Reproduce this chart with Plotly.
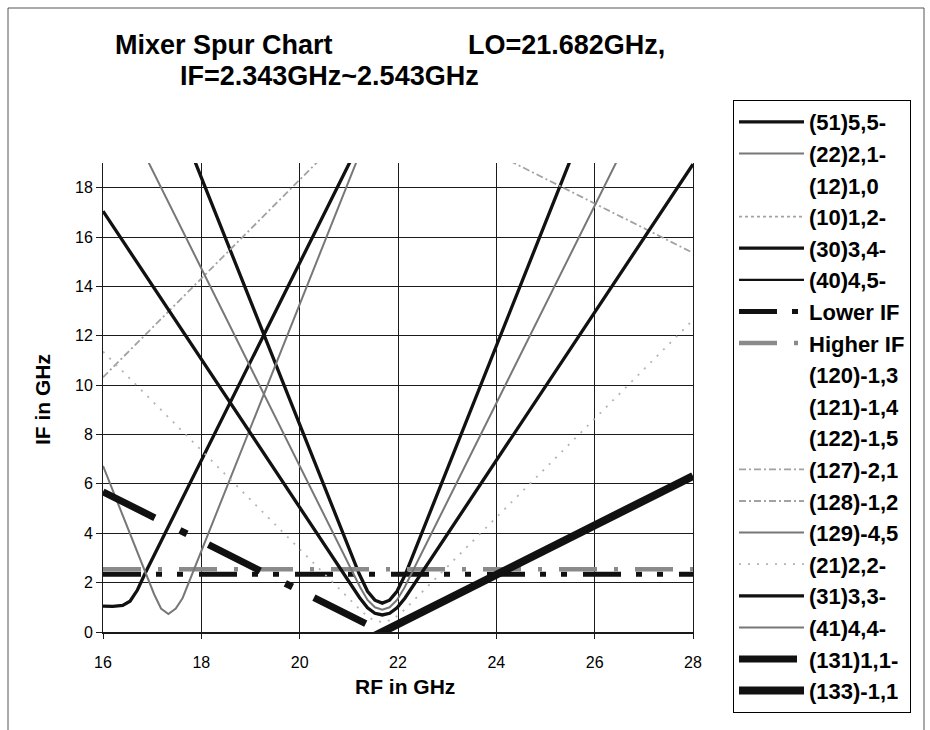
import plotly.graph_objects as go

# ---------------- data ----------------
LO_GHZ = 21.682
IF_LOW = 2.343
IF_HIGH = 2.543

series_names = [
    "(51)5,5-", "(22)2,1-", "(12)1,0", "(10)1,2-", "(30)3,4-", "(40)4,5-",
    "Lower IF", "Higher IF", "(120)-1,3", "(121)-1,4", "(122)-1,5",
    "(127)-2,1", "(128)-1,2", "(129)-4,5", "(21)2,2-", "(31)3,3-",
    "(41)4,4-", "(131)1,1-", "(133)-1,1",
]

rf_51 = [17.5, 21.21, 21.38, 21.53, 21.68, 21.83, 21.98, 22.15, 26.0]
if_51 = [20.91, 2.36, 1.65, 1.29, 1.17, 1.29, 1.65, 2.34, 21.59]

rf_22 = [None]
if_22 = [None]

rf_12 = [None]
if_12 = [None]

rf_10 = [None]
if_10 = [None]

rf_30 = [16.0, 16.2, 16.4, 16.55, 16.7, 16.85, 21.5]
if_30 = [1.05, 1.04, 1.08, 1.25, 1.7, 2.35, 20.95]

rf_40 = [None]
if_40 = [None]

rf_lower = [16.0, 28.0]
if_lower = [IF_LOW, IF_LOW]

rf_higher = [16.0, 28.0]
if_higher = [IF_HIGH, IF_HIGH]

rf_120 = [None]
if_120 = [None]
rf_121 = [None]
if_121 = [None]
rf_122 = [None]
if_122 = [None]

rf_127 = [24.0, 28.0]
if_127 = [19.36, 15.36]

rf_128 = [16.0, 20.5]
if_128 = [10.32, 19.32]

rf_129 = [16.0, 16.9, 17.04, 17.18, 17.33, 17.48, 17.62, 21.3]
if_129 = [6.73, 2.23, 1.53, 0.95, 0.73, 0.95, 1.38, 19.77]

rf_21 = [16.0, 21.28, 21.48, 21.68, 21.88, 22.08, 28.0]
if_21 = [11.36, 0.80, 0.50, 0.40, 0.50, 0.80, 12.64]

rf_31 = [16.0, 21.22, 21.38, 21.53, 21.68, 21.83, 21.98, 22.14, 28.0]
if_31 = [17.05, 1.39, 0.98, 0.76, 0.69, 0.76, 0.98, 1.37, 18.95]

rf_41 = [16.5, 21.23, 21.38, 21.53, 21.68, 21.83, 21.98, 22.13, 27.0]
if_41 = [20.73, 1.81, 1.30, 1.00, 0.90, 1.00, 1.30, 1.79, 21.27]

rf_131 = [16.0, 21.68]
if_131 = [5.68, 0.0]

rf_133 = [21.5, 28.0]
if_133 = [-0.18, 6.32]

x_ticks = [16, 18, 20, 22, 24, 26, 28]
y_ticks = [0, 2, 4, 6, 8, 10, 12, 14, 16, 18]

# ---------------- styles ----------------
BLACK = "#111111"
GRAY = "#777777"
LIGHT = "#a2a2a2"
FAINT = "#b4b4b4"
NONE = "rgba(0,0,0,0)"

styles = {
    "(51)5,5-": dict(color=BLACK, width=3.3),
    "(22)2,1-": dict(color=GRAY, width=2),
    "(12)1,0": dict(color=NONE, width=1),
    "(10)1,2-": dict(color=LIGHT, width=1.8, dash="3px,3px"),
    "(30)3,4-": dict(color=BLACK, width=3.3),
    "(40)4,5-": dict(color=BLACK, width=2.2),
    "Lower IF": dict(color=BLACK, width=5, dash="38px,15px,6px,15px,6px,16px"),
    "Higher IF": dict(color="#8a8a8a", width=4.5, dash="38px,17px,4px,17px"),
    "(120)-1,3": dict(color=NONE, width=1),
    "(121)-1,4": dict(color=NONE, width=1),
    "(122)-1,5": dict(color=NONE, width=1),
    "(127)-2,1": dict(color=LIGHT, width=1.8, dash="7px,3px,2px,3px"),
    "(128)-1,2": dict(color=LIGHT, width=1.8, dash="7px,3px,2px,3px"),
    "(129)-4,5": dict(color=GRAY, width=2),
    "(21)2,2-": dict(color=FAINT, width=1.8, dash="2px,7px"),
    "(31)3,3-": dict(color=BLACK, width=3.3),
    "(41)4,4-": dict(color=GRAY, width=2),
    "(131)1,1-": dict(color=BLACK, width=7, dash="58px,28px,8px,24px"),
    "(133)-1,1": dict(color=BLACK, width=8),
}

data = {
    "(51)5,5-": (rf_51, if_51), "(22)2,1-": (rf_22, if_22), "(12)1,0": (rf_12, if_12),
    "(10)1,2-": (rf_10, if_10), "(30)3,4-": (rf_30, if_30), "(40)4,5-": (rf_40, if_40),
    "Lower IF": (rf_lower, if_lower), "Higher IF": (rf_higher, if_higher),
    "(120)-1,3": (rf_120, if_120), "(121)-1,4": (rf_121, if_121), "(122)-1,5": (rf_122, if_122),
    "(127)-2,1": (rf_127, if_127), "(128)-1,2": (rf_128, if_128), "(129)-4,5": (rf_129, if_129),
    "(21)2,2-": (rf_21, if_21), "(31)3,3-": (rf_31, if_31), "(41)4,4-": (rf_41, if_41),
    "(131)1,1-": (rf_131, if_131), "(133)-1,1": (rf_133, if_133),
}

FONT = "Liberation Sans, Arial, sans-serif"

fig = go.Figure()
for name in series_names:
    xs, ys = data[name]
    fig.add_trace(go.Scatter(x=xs, y=ys, mode="lines", name=name,
                             line=styles[name], hoverinfo="skip"))

# plot-area geometry in pixels
L, T, W, H = 103, 163, 590, 469


def px_x(px):
    return (px - L) / W


def px_y(py):
    return (T + H - py) / H


title_font = dict(family=FONT, size=27, color="black", weight="bold")
label_font = dict(family=FONT, size=21, color="black", weight="bold")

annotations = [
    dict(text="Mixer Spur Chart", x=px_x(113), y=px_y(45), xanchor="left", yanchor="middle",
         font=title_font),
    dict(text="LO=21.682GHz,", x=px_x(466), y=px_y(45), xanchor="left", yanchor="middle",
         font=title_font),
    dict(text="IF=2.343GHz~2.543GHz", x=px_x(178), y=px_y(76), xanchor="left", yanchor="middle",
         font=title_font),
    dict(text="IF in GHz", x=px_x(42), y=px_y(400), xanchor="center", yanchor="middle",
         textangle=-90, font=label_font),
    dict(text="RF in GHz", x=px_x(405), y=px_y(686), xanchor="center", yanchor="middle",
         font=label_font),
]
for a in annotations:
    a.update(xref="paper", yref="paper", showarrow=False)

fig.update_layout(
    width=930, height=730,
    margin=dict(l=L, r=930 - L - W, t=T, b=730 - T - H, pad=0),
    paper_bgcolor="white", plot_bgcolor="white",
    font=dict(family=FONT, color="black"),
    annotations=annotations,
    showlegend=True,
    legend=dict(
        x=px_x(733), y=px_y(100), xanchor="left", yanchor="top",
        bordercolor="black", borderwidth=1, bgcolor="white",
        font=dict(family=FONT, size=22, color="black", weight="bold"),
        itemwidth=65, tracegroupgap=0, maxheight=720,
    ),
    shapes=[dict(type="rect", xref="paper", yref="paper",
                 x0=px_x(8), x1=px_x(924), y0=px_y(745), y1=px_y(8),
                 line=dict(color="#555555", width=1), fillcolor="rgba(0,0,0,0)",
                 layer="below")],
)

fig.update_xaxes(
    range=[16, 28], tickvals=x_ticks, ticktext=[str(v) for v in x_ticks],
    showgrid=True, gridcolor="#1a1a1a", gridwidth=1,
    showline=True, linecolor="#1a1a1a", linewidth=1.5,
    ticks="outside", ticklen=5, tickcolor="#1a1a1a",
    tickfont=dict(family=FONT, size=16, color="black"),
    ticklabelstandoff=10, zeroline=False,
)
fig.update_yaxes(
    range=[0, 19], tickvals=y_ticks, ticktext=[str(v) for v in y_ticks],
    showgrid=True, gridcolor="#1a1a1a", gridwidth=1,
    showline=True, linecolor="#1a1a1a", linewidth=1, mirror=True,
    ticks="outside", ticklen=6, tickcolor="#1a1a1a",
    tickfont=dict(family=FONT, size=16, color="black"),
    zeroline=False,
)

fig.write_html("out.html")
